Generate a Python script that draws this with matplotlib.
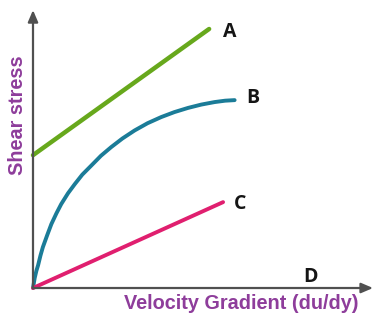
import matplotlib
matplotlib.use("Agg")
import matplotlib.pyplot as plt

# Data (abstract units)
a_x = [0.0, 5.18]
a_y = [4.78, 9.32]
b_x = [0.0, 0.05, 0.10, 0.15, 0.22, 0.29, 0.42, 0.54, 0.69, 0.83, 1.03, 1.23, 1.45, 1.71,
       2.00, 2.30, 2.63, 2.99, 3.37, 3.77, 4.16, 4.56, 4.95, 5.34, 5.65, 5.93]
b_y = [0.0, 0.36, 0.62, 0.82, 1.17, 1.47, 1.91, 2.30, 2.69, 3.02, 3.41, 3.74, 4.08, 4.40,
       4.76, 5.07, 5.38, 5.67, 5.93, 6.15, 6.33, 6.48, 6.60, 6.69, 6.74, 6.76]
c_x = [0.0, 5.59]
c_y = [0.0, 3.09]
labels = ["A", "B", "C", "D"]
label_x = [5.78, 6.46, 6.08, 8.15]
label_y = [9.21, 6.83, 3.02, 0.40]

fig = plt.figure(figsize=(3.75, 3.18), dpi=100)
ax = fig.add_axes([0.088, 0.0943, 0.9067, 0.874])
ax.set_xlim(0, 10)
ax.set_ylim(0, 10)
ax.axis("off")

ax.plot(a_x, a_y, color="#67a81c", lw=3.2, solid_capstyle="round", clip_on=False)
ax.plot(b_x, b_y, color="#1b7c98", lw=2.8, solid_capstyle="round",
        solid_joinstyle="round", clip_on=False)
ax.plot(c_x, c_y, color="#e01f6f", lw=2.8, solid_capstyle="round", clip_on=False)

axis_col = "#505050"
ax.annotate("", xy=(10, 0), xytext=(0, 0),
            arrowprops=dict(arrowstyle="-|>,head_length=0.7,head_width=0.3",
                            color=axis_col, lw=1.6, shrinkA=0, shrinkB=0),
            annotation_clip=False)
ax.annotate("", xy=(0, 10), xytext=(0, 0),
            arrowprops=dict(arrowstyle="-|>,head_length=0.7,head_width=0.3",
                            color=axis_col, lw=1.6, shrinkA=0, shrinkB=0),
            annotation_clip=False)

for t, x, y in zip(labels, label_x, label_y):
    ax.text(x, y, t, fontsize=14, fontweight="bold", color="#151515",
            family=["Open Sans", "DejaVu Sans"],
            ha="center", va="center", clip_on=False)

purple = "#8e3d9b"
ax.text(6.12, -0.54, "Velocity Gradient (du/dy)", fontsize=14.3, fontweight="bold",
        family=["Liberation Sans", "DejaVu Sans"],
        color=purple, ha="center", va="center", clip_on=False)
ax.text(-0.46, 6.22, "Shear stress", fontsize=14.3, fontweight="bold",
        family=["Liberation Sans", "DejaVu Sans"],
        color=purple, ha="center", va="center", rotation=90, clip_on=False)

fig.savefig("out.png", dpi=100)
